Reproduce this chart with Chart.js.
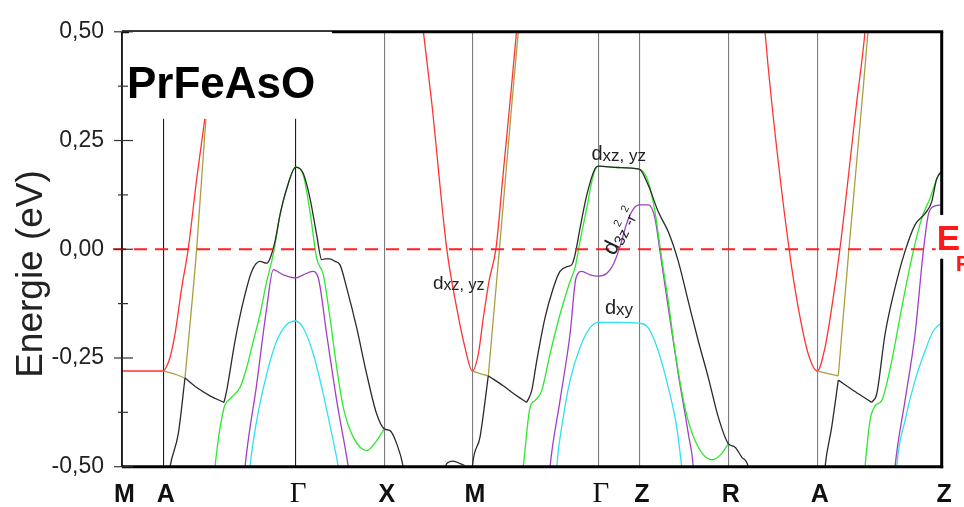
<!DOCTYPE html>
<html><head><meta charset="utf-8">
<script src="https://cdn.jsdelivr.net/npm/chart.js@4.4.0/dist/chart.umd.min.js"></script>
<style>html,body{margin:0;padding:0;background:#fff;}#wrap{width:964px;height:507px;position:relative;}</style>
</head><body><div id="wrap"><canvas id="c" width="964" height="507"></canvas></div>
<script>
// ---------- data ----------
const kMax = 8.197;
const kPoints = [0, 0.413, 1.737, 2.623, 3.503, 4.763, 5.173, 6.063, 6.953, 8.197];
const kLabels = ['M','A','Γ','X','M','Γ','Z','R','A','Z'];
const yTicks = [-0.5, -0.25, 0, 0.25, 0.5];
const yTickLabels = ['-0,50','-0,25','0,00','0,25','0,50'];
const yMinorTicks = [-0.375, -0.125, 0.125, 0.375];
const fermi = [[-0.09,0],[8.197,0]];

const redMA  = [[0,-0.28],[0.413,-0.28],[0.447,-0.269],[0.48,-0.249],[0.53,-0.195],[0.597,-0.089],[0.663,0.002],[0.747,0.162],[0.83,0.303],[0.95,0.52]];
const redXMG = [[3.0,0.53],[3.013,0.502],[3.097,0.338],[3.247,0.002],[3.347,-0.135],[3.43,-0.226],[3.503,-0.28],[3.563,-0.241],[3.613,-0.158],[3.673,-0.07],[3.74,0.002],[3.81,0.17],[3.88,0.338],[3.945,0.5],[3.955,0.53]];
const redRAZ = [[6.42,0.53],[6.43,0.5],[6.497,0.338],[6.67,0.002],[6.763,-0.135],[6.863,-0.241],[6.953,-0.28],[7.03,-0.226],[7.097,-0.135],[7.18,0.002],[7.347,0.338],[7.43,0.5],[7.44,0.53]];

const oliveA1 = [[0.413,-0.28],[0.513,-0.286],[0.63,-0.296]];
const oliveA2 = [[0.63,-0.296],[0.747,0.002],[0.84,0.303],[0.9,0.52]];
const oliveM1 = [[3.503,-0.28],[3.58,-0.286],[3.663,-0.291]];
const oliveM2 = [[3.663,-0.291],[3.775,0.002],[3.9,0.338],[3.975,0.53]];
const oliveZ1 = [[6.953,-0.28],[7.163,-0.291]];
const oliveZ2 = [[7.163,-0.291],[7.27,0.002],[7.4,0.338],[7.46,0.5],[7.47,0.53]];

const blackA1 = [[0.47,-0.52],[0.48,-0.501],[0.563,-0.424],[0.63,-0.296]];
const blackA2 = [[0.63,-0.296],[0.747,-0.318],[0.88,-0.337],[1.02,-0.352]];
const blackA3 = [[1.02,-0.352],[1.047,-0.325],[1.13,-0.211],[1.213,-0.12],[1.297,-0.051],[1.38,-0.028],[1.447,-0.032],[1.48,-0.021],[1.53,0.018],[1.58,0.079],[1.647,0.139],[1.737,0.189],[1.813,0.174],[1.88,0.117],[1.947,0.033],[1.997,-0.024],[2.03,-0.022],[2.08,-0.022],[2.13,-0.028],[2.18,-0.036],[2.247,-0.089],[2.347,-0.181],[2.447,-0.287],[2.547,-0.379],[2.623,-0.413],[2.68,-0.417],[2.747,-0.447],[2.813,-0.501],[2.83,-0.53]];
const blackBump = [[3.22,-0.52],[3.247,-0.493],[3.313,-0.487],[3.38,-0.493],[3.447,-0.505],[3.46,-0.52]];
const blackM1 = [[3.495,-0.53],[3.503,-0.501],[3.58,-0.432],[3.663,-0.291]];
const blackM2 = [[3.663,-0.291],[3.813,-0.314],[3.947,-0.337],[4.047,-0.352]];
const blackM3 = [[4.047,-0.352],[4.097,-0.325],[4.147,-0.257],[4.23,-0.158],[4.313,-0.089],[4.38,-0.051],[4.447,-0.04],[4.497,-0.036],[4.53,-0.013],[4.58,0.048],[4.647,0.124],[4.73,0.185],[4.763,0.191],[4.96,0.188],[5.173,0.184],[5.263,0.147],[5.363,0.086],[5.463,0.04],[5.563,-0.028],[5.663,-0.12],[5.763,-0.211],[5.863,-0.295],[5.963,-0.386],[6.063,-0.447],[6.13,-0.455],[6.197,-0.478],[6.263,-0.501],[6.28,-0.53]];
const blackZ1 = [[7.02,-0.53],[7.03,-0.501],[7.097,-0.409],[7.163,-0.301]];
const blackZ2 = [[7.163,-0.301],[7.33,-0.327],[7.497,-0.352]];
const blackZ3 = [[7.497,-0.352],[7.547,-0.333],[7.63,-0.196],[7.73,-0.089],[7.83,-0.005],[7.93,0.056],[8.03,0.082],[8.097,0.109],[8.147,0.162],[8.197,0.178]];

const greenA = [[0.92,-0.53],[0.93,-0.501],[1.02,-0.365],[1.08,-0.344],[1.18,-0.318],[1.247,-0.272],[1.313,-0.211],[1.38,-0.15],[1.447,-0.074],[1.497,-0.028],[1.53,0.01],[1.58,0.079],[1.647,0.139],[1.737,0.189],[1.813,0.17],[1.88,0.086],[1.947,-0.021],[2.013,-0.059],[2.08,-0.158],[2.147,-0.272],[2.213,-0.364],[2.313,-0.432],[2.447,-0.463],[2.547,-0.44],[2.623,-0.413]];
const greenM = [[4.0,-0.53],[4.013,-0.501],[4.08,-0.364],[4.13,-0.348],[4.197,-0.325],[4.28,-0.241],[4.38,-0.15],[4.48,-0.074],[4.53,-0.043],[4.58,0.018],[4.647,0.094],[4.713,0.17],[4.763,0.191],[4.96,0.188],[5.173,0.184],[5.263,0.155],[5.33,0.086],[5.397,-0.021],[5.463,-0.12],[5.53,-0.234],[5.63,-0.364],[5.73,-0.44],[5.897,-0.484],[5.997,-0.47],[6.063,-0.447]];
const greenZ = [[7.42,-0.53],[7.43,-0.501],[7.48,-0.394],[7.53,-0.36],[7.597,-0.348],[7.697,-0.257],[7.797,-0.135],[7.897,-0.021],[7.997,0.071],[8.08,0.117],[8.163,0.17],[8.197,0.181]];

const purpleA = [[1.22,-0.53],[1.23,-0.501],[1.347,-0.31],[1.447,-0.135],[1.513,-0.047],[1.613,-0.059],[1.737,-0.066],[1.813,-0.059],[1.907,-0.051],[1.963,-0.066],[2.047,-0.196],[2.147,-0.348],[2.263,-0.501],[2.28,-0.53]];
const purpleM = [[4.27,-0.53],[4.28,-0.501],[4.38,-0.348],[4.48,-0.196],[4.54,-0.066],[4.597,-0.051],[4.68,-0.059],[4.763,-0.062],[4.847,-0.056],[4.913,-0.035],[4.98,0.006],[5.047,0.059],[5.113,0.092],[5.173,0.102],[5.263,0.102],[5.33,0.071],[5.38,-0.005],[5.463,-0.135],[5.563,-0.287],[5.663,-0.424],[5.713,-0.501],[5.72,-0.53]];
const purpleZ = [[7.72,-0.53],[7.73,-0.501],[7.83,-0.348],[7.93,-0.196],[8.013,-0.005],[8.063,0.079],[8.113,0.098],[8.197,0.102]];

const cyanA = [[1.27,-0.53],[1.28,-0.501],[1.347,-0.394],[1.447,-0.287],[1.547,-0.211],[1.647,-0.173],[1.737,-0.165],[1.813,-0.181],[1.913,-0.241],[2.013,-0.333],[2.097,-0.424],[2.163,-0.501],[2.18,-0.53]];
const cyanM = [[4.34,-0.53],[4.347,-0.501],[4.413,-0.386],[4.48,-0.302],[4.58,-0.226],[4.68,-0.181],[4.763,-0.168],[4.96,-0.168],[5.173,-0.17],[5.263,-0.181],[5.363,-0.234],[5.463,-0.318],[5.547,-0.409],[5.597,-0.501],[5.61,-0.53]];
const cyanZ = [[7.74,-0.53],[7.747,-0.501],[7.83,-0.394],[7.93,-0.302],[8.03,-0.234],[8.113,-0.188],[8.197,-0.169]];

// ---------- styling ----------
const RED='#ff3333', OLIVE='#a8a040', BLACK='#2a2a2a', GREEN='#2ee82e', PURPLE='#a040c0', CYAN='#30e0f0';
const SANS = '"Liberation Sans", Arial, sans-serif';
const SERIF = '"Liberation Serif", "Times New Roman", serif';

const bandList = [
  [blackA1,BLACK],[blackA2,BLACK],[blackA3,BLACK],[blackBump,BLACK],[blackM1,BLACK],[blackM2,BLACK],[blackM3,BLACK],[blackZ1,BLACK],[blackZ2,BLACK],[blackZ3,BLACK],
  [oliveA1,OLIVE],[oliveA2,OLIVE],[oliveM1,OLIVE],[oliveM2,OLIVE],[oliveZ1,OLIVE],[oliveZ2,OLIVE],
  [redMA,RED],[redXMG,RED],[redRAZ,RED],
  [greenA,GREEN],[greenM,GREEN],[greenZ,GREEN],
  [purpleA,PURPLE],[purpleM,PURPLE],[purpleZ,PURPLE],
  [cyanA,CYAN],[cyanM,CYAN],[cyanZ,CYAN]
];
const toXY = a => a.map(p => ({x:p[0], y:p[1]}));
const datasets = [{
  data: toXY(fermi), borderColor:'#ff2020', borderWidth:2, borderDash:[13,8],
  showLine:true, pointRadius:0, clip:false, tension:0, cubicInterpolationMode:'default'
}].concat(bandList.map(([d,c]) => ({
  data: toXY(d), borderColor:c, borderWidth:1.3, showLine:true, pointRadius:0,
  cubicInterpolationMode:'monotone', fill:false
})));

const W=964, H=507, PLOT_LEFT=122, PLOT_RIGHT=941.7, PLOT_TOP=29, PLOT_BOTTOM=466.7;

function seg(ctx,x1,y1,x2,y2){ctx.beginPath();ctx.moveTo(x1,y1);ctx.lineTo(x2,y2);ctx.stroke();}
function runText(ctx,x,y,parts){
  let cx=x;
  for(const p of parts){ctx.font=p.f; ctx.fillText(p.t,cx,y+(p.dy||0)); cx+=ctx.measureText(p.t).width+(p.gap||0);}
}

const deco = {
  id:'deco',
  afterDraw(chart){
    const {ctx, chartArea:a, scales:{x, y}} = chart;
    ctx.save();
    ctx.strokeStyle='#000';
    // frame
    ctx.lineWidth=3;
    seg(ctx,a.left,a.bottom,a.right+1.5,a.bottom);
    seg(ctx,a.left,a.top,a.right+1.5,a.top);
    seg(ctx,a.right,a.top,a.right,y.getPixelForValue(0.079));
    seg(ctx,a.right,y.getPixelForValue(-0.022),a.right,a.bottom+1.5);
    ctx.lineWidth=1.6;
    seg(ctx,a.left,a.top,a.left,a.bottom);
    // label box + title
    ctx.fillStyle='#fff';
    ctx.fillRect(a.left+7, a.top, 203, 87);
    ctx.fillStyle='#000';
    ctx.font='bold 44px '+SANS;
    ctx.textBaseline='alphabetic'; ctx.textAlign='left';
    ctx.fillText('PrFeAsO', a.left+5, a.top+66);
    // y ticks
    ctx.strokeStyle='#333'; ctx.lineWidth=1.2;
    yTicks.forEach(v=>{const py=y.getPixelForValue(v); seg(ctx,a.left-8,py,a.left+11,py);});
    yMinorTicks.forEach(v=>{const py=y.getPixelForValue(v); seg(ctx,a.left-4,py,a.left+6,py);});
    // y title
    ctx.save();
    ctx.fillStyle='#222'; ctx.font='37px '+SANS;
    ctx.translate(42, 274); ctx.rotate(-Math.PI/2);
    ctx.textAlign='center'; ctx.fillText('Energie (eV)',0,0);
    ctx.restore();
    // x labels
    ctx.fillStyle='#111'; ctx.textAlign='center';
    kPoints.forEach((k,i)=>{
      const lab=kLabels[i];
      ctx.font = lab==='Γ' ? '29px '+SERIF : 'bold 25px '+SANS;
      ctx.fillText(lab, x.getPixelForValue(k)+2.5, 502);
    });
    // E_F
    const yf=y.getPixelForValue(0);
    ctx.fillStyle='#fff'; ctx.fillRect(a.right-6, yf-34, 30, 43);
    ctx.fillStyle='#ff1a1a'; ctx.textAlign='left';
    ctx.font='bold 35px '+SANS; ctx.fillText('E', a.right-5, yf+0.5);
    ctx.font='bold 22px '+SANS; ctx.fillText('F', a.right+14, yf+22);
    // orbital annotations
    ctx.fillStyle='#222';
    runText(ctx, x.getPixelForValue(3.11), y.getPixelForValue(-0.092), [{t:'d',f:'19px '+SANS},{t:'xz, yz',f:'16px '+SANS,dy:1}]);
    runText(ctx, x.getPixelForValue(4.695), y.getPixelForValue(0.205), [{t:'d',f:'20px '+SANS},{t:'xz, yz',f:'17px '+SANS,dy:1}]);
    runText(ctx, x.getPixelForValue(4.83), y.getPixelForValue(-0.149), [{t:'d',f:'20px '+SANS},{t:'xy',f:'17px '+SANS,dy:1}]);
    ctx.save();
    ctx.translate(x.getPixelForValue(4.925), y.getPixelForValue(-0.016));
    ctx.rotate(-64*Math.PI/180);
    runText(ctx, 0, 0, [{t:'d',f:'22px '+SANS},{t:'3z',f:'15px '+SANS,dy:3},{t:'2',f:'11px '+SANS,dy:-8},{t:'-r',f:'15px '+SANS,dy:3},{t:'2',f:'11px '+SANS,dy:-8}]);
    ctx.restore();
    ctx.restore();
  }
};

new Chart(document.getElementById('c').getContext('2d'), {
  type:'scatter',
  data:{datasets},
  options:{
    responsive:false, animation:false, devicePixelRatio:1, events:[],
    layout:{padding:{left:0, right:W-PLOT_RIGHT, top:PLOT_TOP, bottom:0}},
    plugins:{legend:{display:false}, tooltip:{enabled:false}},
    scales:{
      x:{type:'linear', min:0, max:kMax,
        afterBuildTicks:s=>{s.ticks=kPoints.map(v=>({value:v}));},
        afterFit:s=>{s.height=H-PLOT_BOTTOM;},
        ticks:{display:false},
        border:{display:false},
        grid:{display:true, drawOnChartArea:true, drawTicks:false, lineWidth:1.1,
          color:c=>(c.index===1||c.index===2)?'#1c1c1c':'#7c7c7c'}
      },
      y:{type:'linear', min:-0.5, max:0.5,
        afterBuildTicks:s=>{s.ticks=yTicks.map(v=>({value:v}));},
        afterFit:s=>{s.width=PLOT_LEFT;},
        grid:{display:false, drawTicks:false}, border:{display:false},
        ticks:{padding:18, color:'#222', font:{family:'Liberation Sans', size:23},
          callback:(v,i)=>yTickLabels[i]}
      }
    }
  },
  plugins:[deco]
});
</script></body></html>
